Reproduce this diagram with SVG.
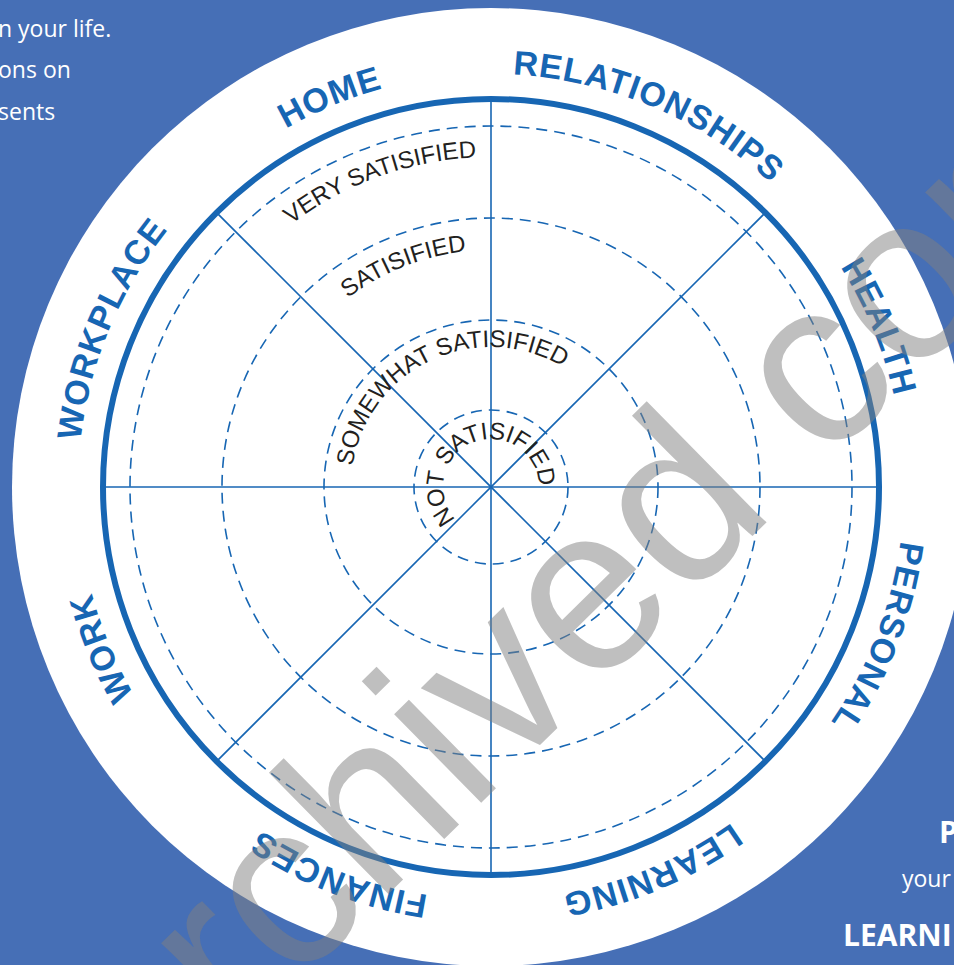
<svg xmlns="http://www.w3.org/2000/svg" width="954" height="965" viewBox="0 0 954 965">
  <style>
    .ring { fill: none; stroke: #1766b3; }
    .dash { fill: none; stroke: #1766b3; stroke-width: 1.6; stroke-dasharray: 11 7; }
    .spoke { stroke: #1766b3; stroke-width: 1.6; }
    .cat { font-family: "Liberation Sans", Arial, sans-serif; font-weight: bold; font-size: 34px; fill: #1766b3; letter-spacing: 1px; }
    .lvl { font-family: "Liberation Sans", Arial, sans-serif; font-size: 24px; fill: #231f20; }
    .note { font-family: "Open Sans", "Liberation Sans", sans-serif; font-size: 23px; fill: #ffffff; }
    .noteb { font-family: "Open Sans", "Liberation Sans", sans-serif; font-weight: bold; font-size: 30px; fill: #ffffff; }
    .wm { font-family: "Liberation Sans", Arial, sans-serif; font-size: 235px; fill: #808080; fill-opacity: 0.5; }
  </style>
  <defs>
    <!-- clockwise circles starting at 6 o'clock, centred on the wheel -->
    <path id="pCat" d="M491,900 A413,413 0 0 1 491,74 A413,413 0 0 1 491,900"/>
    <path id="pVery" d="M491,817 A330,330 0 0 1 491,157 A330,330 0 0 1 491,817"/>
    <path id="pSat" d="M491,724 A237,237 0 0 1 491,250 A237,237 0 0 1 491,724"/>
    <path id="pSome" d="M491,627 A140,140 0 0 1 491,347 A140,140 0 0 1 491,627"/>
    <path id="pNot" d="M491,535 A48,48 0 0 1 491,439 A48,48 0 0 1 491,535"/>
  </defs>

  <!-- page background -->
  <rect x="0" y="0" width="954" height="965" fill="#466fb6"/>

  <!-- side copy -->
  <g id="side-text">
    <text class="note" x="-2" y="37">n your life.</text>
    <text class="note" x="-2" y="78">ons on</text>
    <text class="note" x="-2" y="120">sents</text>
    <text class="noteb" x="939" y="843">P</text>
    <text class="note" x="902" y="887">your</text>
    <text class="noteb" x="843" y="946">LEARNI</text>
  </g>

  <!-- wheel body -->
  <g id="wheel">
    <circle cx="491" cy="487" r="479" fill="#ffffff"/>
    <circle class="dash" cx="491" cy="487" r="361"/>
    <circle class="dash" cx="491" cy="487" r="269"/>
    <circle class="dash" cx="491" cy="487" r="167"/>
    <circle class="dash" cx="491" cy="487" r="77"/>
  </g>

  <g id="spokes">
    <line class="spoke" x1="491" y1="99" x2="491" y2="875"/>
    <line class="spoke" x1="103" y1="487" x2="879" y2="487"/>
    <line class="spoke" x1="216.6" y1="212.6" x2="765.4" y2="761.4"/>
    <line class="spoke" x1="765.4" y1="212.6" x2="216.6" y2="761.4"/>
  </g>

  <circle id="rim" class="ring" cx="491" cy="487" r="388" stroke-width="6"/>

  <!-- satisfaction levels -->
  <g id="levels">
    <text class="lvl"><textPath href="#pVery" startOffset="921.6" text-anchor="middle">VERY SATISIFIED</textPath></text>
    <text class="lvl"><textPath href="#pSat" startOffset="655.2" text-anchor="middle">SATISIFIED</textPath></text>
    <text class="lvl"><textPath href="#pSome" startOffset="378" text-anchor="middle">SOMEWHAT SATISIFIED</textPath></text>
    <text class="lvl"><textPath href="#pNot" startOffset="132.4" text-anchor="middle">NOT SATISIFIED</textPath></text>
  </g>

  <!-- life areas; offsets measured from 6 o'clock, clockwise (path length 2595) -->
  <g id="areas">
    <g id="home"><text class="cat" letter-spacing="3"><textPath href="#pCat" startOffset="1135.3" text-anchor="middle">HOME</textPath></text></g>
    <g id="relationships"><text class="cat"><textPath href="#pCat" startOffset="1462" text-anchor="middle">RELATIONSHIPS</textPath></text></g>
    <g id="health"><text class="cat"><textPath href="#pCat" startOffset="1784.1" text-anchor="middle">HEALTH</textPath></text></g>
    <g id="personal"><text class="cat"><textPath href="#pCat" startOffset="2098" text-anchor="middle">PERSONAL</textPath></text></g>
    <g id="learning"><text class="cat"><textPath href="#pCat" startOffset="2430" text-anchor="middle">LEARNING</textPath></text></g>
    <g id="finances"><text class="cat"><textPath href="#pCat" startOffset="154" text-anchor="middle">FINANCES</textPath></text></g>
    <g id="work"><text class="cat"><textPath href="#pCat" startOffset="486.6" text-anchor="middle">WORK</textPath></text></g>
    <g id="workplace"><text class="cat"><textPath href="#pCat" startOffset="811.0" text-anchor="middle">WORKPLACE</textPath></text></g>
  </g>

  <!-- stamp -->
  <text class="wm" transform="translate(125.3,1152.5) rotate(-44.5)">Archived content</text>
</svg>
